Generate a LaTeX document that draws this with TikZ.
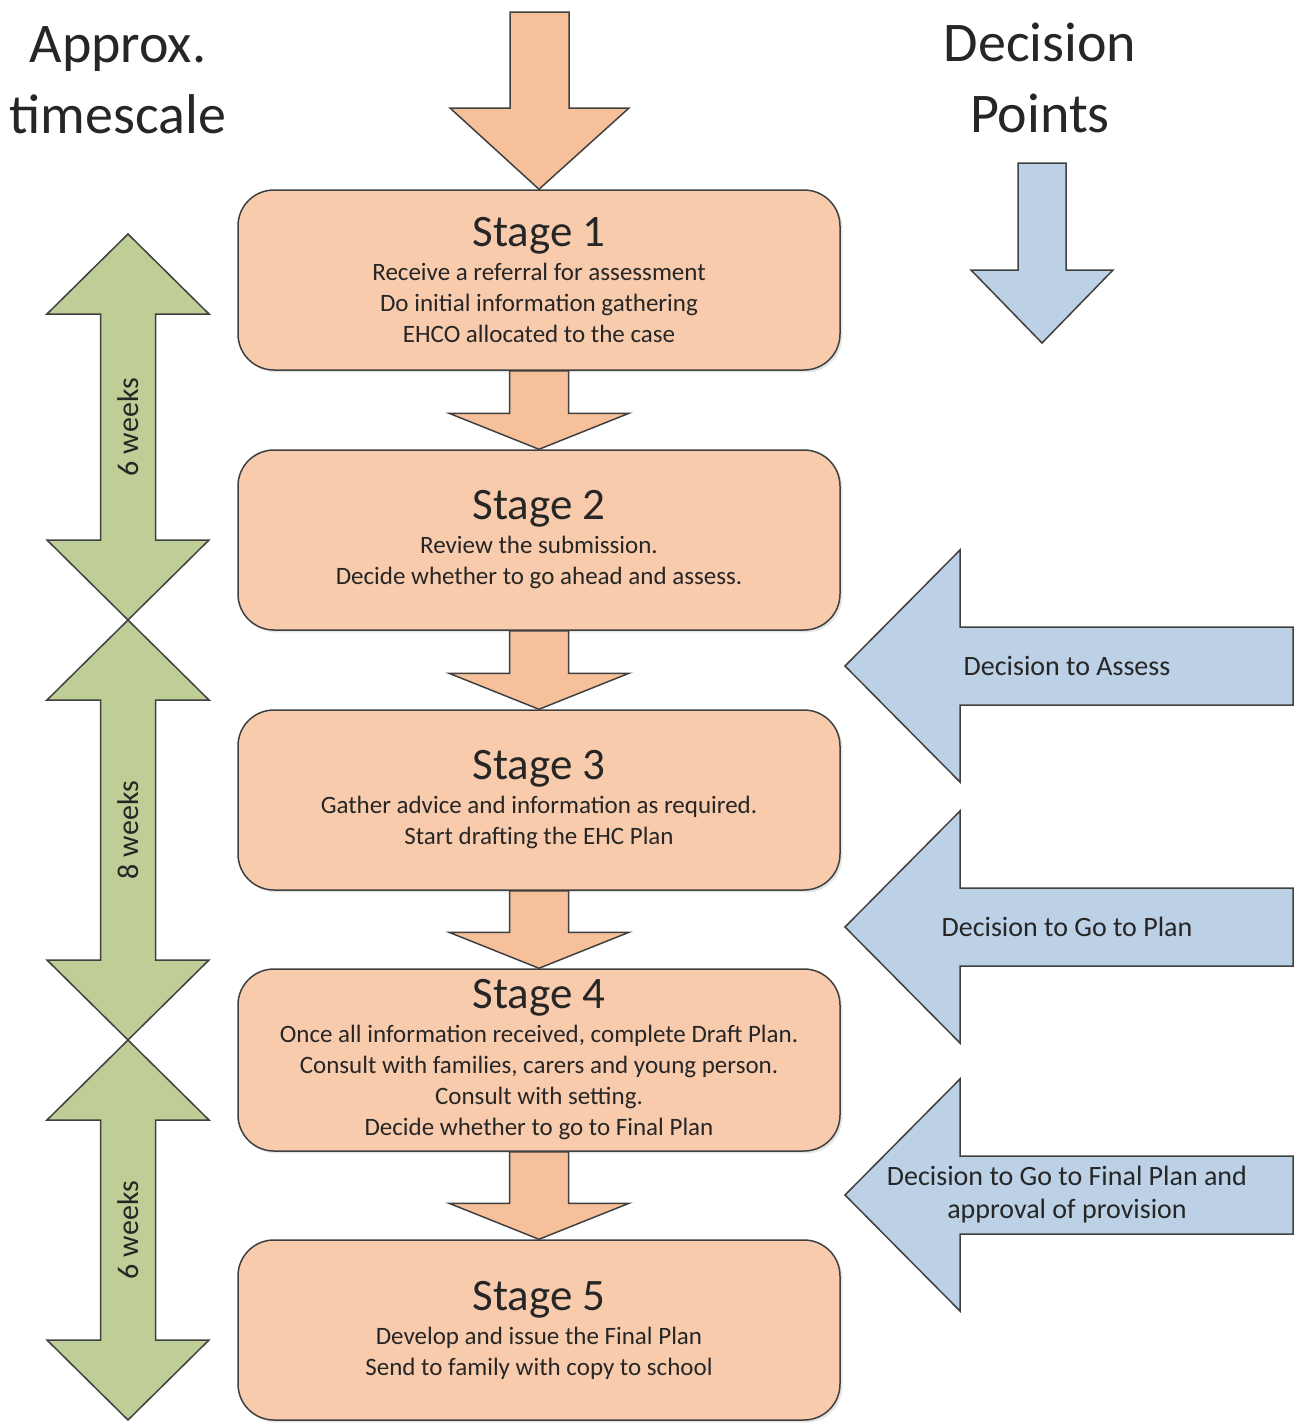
\documentclass[tikz,border=0pt]{standalone}
\usepackage{fontspec}
\setmainfont{Carlito}
\usepackage{tikz}
\usetikzlibrary{calc,shadows}
\definecolor{lineg}{HTML}{404040}
\definecolor{txtg}{HTML}{262626}
\definecolor{boxorange}{HTML}{F8CBAD}
\definecolor{arroworange}{HTML}{F5C09A}
\definecolor{decblue}{HTML}{BCD0E6}
\definecolor{weekgreen}{HTML}{BFCE96}
\tikzstyle{stage} = [rectangle, rounded corners=18pt, minimum width=301pt, minimum height=90pt, align=center, draw=lineg, line width=0.75pt, fill=boxorange, text=txtg, font=\fontsize{12.5}{15.5}\selectfont, drop shadow={opacity=0.2, shadow xshift=1.2pt, shadow yshift=-1.2pt}]
\tikzstyle{orangearrow} = [draw=lineg, line width=0.75pt, fill=arroworange, line join=miter]
\tikzstyle{bluearrow} = [draw=lineg, line width=0.75pt, fill=decblue, line join=miter]
\tikzstyle{greenarrow} = [draw=lineg, line width=0.75pt, fill=weekgreen, line join=miter]
\tikzstyle{headtext} = [align=center, text=txtg, font=\fontsize{28}{35.5}\selectfont]
\tikzstyle{decisiontext} = [align=center, text=txtg, font=\fontsize{14}{16.5}\selectfont]
\tikzstyle{weektext} = [text=txtg, font=\fontsize{15}{17}\selectfont]
\newcommand{\stagetitle}[1]{{\fontsize{22.5}{27}\selectfont #1}\\[1.5pt]}
% block arrow from the bottom of one stage to the top of the next
\newcommand{\stagearrow}[2]{%
  \filldraw[orangearrow] let \p1=(#1.south), \p2=(#2.north) in
    (\x1-14.75pt,\y1) -- (\x1-14.75pt,\y2+18pt) -- (\x1-45pt,\y2+18pt) -- (\x2,\y2)
    -- (\x1+45pt,\y2+18pt) -- (\x1+14.75pt,\y2+18pt) -- (\x1+14.75pt,\y1) -- cycle;}
% double arrow of the time scale
\newcommand{\weekspan}[4]{%
  \filldraw[greenarrow] (128,#2) -- (209,#2+80) -- (155.5,#2+80) -- (155.5,#3-80) -- (209,#3-80)
    -- (128,#3) -- (47,#3-80) -- (100.5,#3-80) -- (100.5,#2+80) -- (47,#2+80) -- cycle;
  \node[weektext, rotate=90] (#1) at (128,{(#2+#3)/2}) {#4};}
% decision arrow pointing left
\newcommand{\decisionarrow}[3]{%
  \filldraw[bluearrow] (845,#2) -- (960,#2-116) -- (960,#2-39) -- (1293,#2-39) -- (1293,#2+39)
    -- (960,#2+39) -- (960,#2+116) -- cycle;
  \node[decisiontext] (#1) at (1067,#2) {#3};}

\begin{document}
\begin{tikzpicture}[x=0.5pt,y=-0.5pt,node distance=130pt]
\useasboundingbox (0,0) rectangle (1295,1426);

\node (timehead) [headtext] at (118,80) {Approx.\\timescale};
\node (dechead) [headtext] at (1040,78) {Decision\\Points};

\node (stage1) [stage] at (539,280) {\stagetitle{Stage 1}Receive a referral for assessment\\Do initial information gathering\\EHCO allocated to the case};
\node (stage2) [stage, below of=stage1] {\stagetitle{Stage 2}Review the submission.\\Decide whether to go ahead and assess.};
\node (stage3) [stage, below of=stage2] {\stagetitle{Stage 3}Gather advice and information as required.\\Start drafting the EHC Plan};
\node (stage4) [stage, below of=stage3, minimum height=91pt] {\stagetitle{Stage 4}Once all information received, complete Draft Plan.\\Consult with families, carers and young person.\\Consult with setting.\\Decide whether to go to Final Plan};
\node (stage5) [stage, below of=stage4, yshift=-5pt] {\stagetitle{Stage 5}Develop and issue the Final Plan\\Send to family with copy to school};

% arrow into stage 1
\filldraw[orangearrow] (510,12) -- (569,12) -- (569,108) -- (629,108) -- (stage1.north) -- (450,108) -- (510,108) -- cycle;
\stagearrow{stage1}{stage2}
\stagearrow{stage2}{stage3}
\stagearrow{stage3}{stage4}
\stagearrow{stage4}{stage5}

% decision side
\filldraw[bluearrow] (1018,163) -- (1066,163) -- (1066,270) -- (1113,270) -- (1042,343) -- (971,270) -- (1018,270) -- cycle;
\decisionarrow{dec1}{666}{Decision to Assess}
\decisionarrow{dec2}{927}{Decision to Go to Plan}
\decisionarrow{dec3}{1195}{Decision to Go to Final Plan and\\approval of provision}

% time scale
\weekspan{wk1}{234}{620}{6 weeks}
\weekspan{wk2}{620}{1040}{8 weeks}
\weekspan{wk3}{1040}{1420}{6 weeks}
\end{tikzpicture}
\end{document}
